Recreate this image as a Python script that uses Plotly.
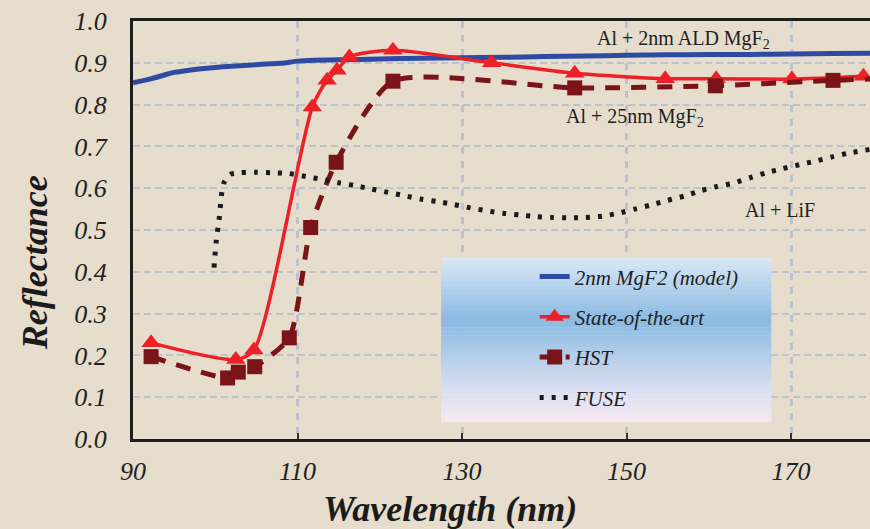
import plotly.graph_objects as go

# ---------------- data ----------------
model_x = [90, 92, 93, 94, 95, 96, 98, 100, 102, 104, 106, 108, 110, 112, 115, 120, 125,
           130, 135, 140, 145, 150, 155, 160, 165, 170, 175, 180]
model_y = [0.852, 0.861, 0.866, 0.872, 0.877, 0.880, 0.885, 0.889, 0.892, 0.894, 0.897, 0.899,
           0.904, 0.906, 0.907, 0.909, 0.911, 0.912, 0.913, 0.915, 0.916, 0.918, 0.919, 0.920,
           0.920, 0.921, 0.922, 0.923]

sota_x = [92.2, 102.5, 104.7, 111.8, 113.6, 114.8, 116.3, 121.6, 133.6, 143.7, 154.7, 160.9, 170.1, 178.8]
sota_y = [0.230, 0.190, 0.213, 0.794, 0.858, 0.882, 0.914, 0.930, 0.900, 0.875, 0.862, 0.862, 0.861, 0.868]

hst_x = [92.2, 101.5, 102.8, 104.8, 109.0, 111.6, 114.7, 121.6, 143.7, 160.8, 175.1, 181.0]
hst_y = [0.197, 0.146, 0.160, 0.173, 0.242, 0.506, 0.662, 0.856, 0.840, 0.845, 0.858, 0.862]

fuse_x = [99.85, 100.1, 100.5, 100.8, 101.1, 101.8, 103, 105, 107, 109, 111, 113, 115, 117,
          119, 121, 123, 125, 127, 129, 131, 133, 135, 137, 139, 141, 143, 145, 147, 149, 151,
          153, 155, 157, 159, 161, 163, 165, 167, 169, 171, 173, 175, 177, 179.6]
fuse_y = [0.410, 0.470, 0.530, 0.590, 0.615, 0.633, 0.637, 0.638, 0.637, 0.635, 0.628, 0.621,
          0.613, 0.606, 0.598, 0.590, 0.582, 0.574, 0.568, 0.561, 0.553, 0.546, 0.540, 0.536,
          0.532, 0.530, 0.529, 0.530, 0.533, 0.540, 0.550, 0.560, 0.571, 0.581, 0.594, 0.604,
          0.612, 0.625, 0.637, 0.647, 0.656, 0.665, 0.675, 0.684, 0.693]

series_names = ["2nm MgF2 (model)", "State-of-the-art", "HST", "FUSE"]
curve_labels = ["Al + 2nm ALD MgF<sub>2</sub>", "Al + 25nm MgF<sub>2</sub>", "Al + LiF"]
label_x = [156.9, 151.0, 168.7]
label_y = [0.955, 0.768, 0.548]

x_ticks = [90, 110, 130, 150, 170]
y_ticks = [0.0, 0.1, 0.2, 0.3, 0.4, 0.5, 0.6, 0.7, 0.8, 0.9, 1.0]

# ---------------- style ----------------
BG = "#e6ddcc"
SERIF = "Liberation Serif"
BLUE = "#2f4aa3"
RED = "#ee2027"
DRED = "#7b1418"
BLACK = "#1b1b1b"
GRID = "#bcc3cf"

fig = go.Figure()

fig.add_trace(go.Scatter(x=model_x, y=model_y, mode="lines", name=series_names[0],
                         legendgroup="a",
                         line=dict(color=BLUE, width=5, shape="spline", smoothing=0.6)))
fig.add_trace(go.Scatter(x=sota_x, y=sota_y, mode="lines+markers", name=series_names[1],
                         legendgroup="b",
                         line=dict(color=RED, width=3.5, shape="spline", smoothing=0.7),
                         marker=dict(symbol="triangle-up", size=17, color=RED)))
fig.add_trace(go.Scatter(x=hst_x, y=hst_y, mode="lines+markers", name=series_names[2],
                         legendgroup="c",
                         line=dict(color=DRED, width=5, dash="15px,11px", shape="spline", smoothing=0.6),
                         marker=dict(symbol="square", size=15, color=DRED)))
fig.add_trace(go.Scatter(x=fuse_x, y=fuse_y, mode="lines", name=series_names[3],
                         legendgroup="d",
                         line=dict(color=BLACK, width=5, dash="4px,8px", shape="spline", smoothing=0.6)))

# curve labels
for t, xx, yy in zip(curve_labels, label_x, label_y):
    fig.add_annotation(x=xx, y=yy, xref="x", yref="y", text=t, showarrow=False,
                       font=dict(family=SERIF, size=20, color="#222222"))

# axis titles as annotations (the original titles are centered on a wider, cropped plot)
fig.add_annotation(x=0.43, y=-0.168, xref="paper", yref="paper", text="Wavelength (nm)",
                   showarrow=False, yanchor="middle",
                   font=dict(family=SERIF, size=36, color="#1b1b1b", weight="bold", style="italic"))
fig.add_annotation(x=-0.133, y=0.423, xref="paper", yref="paper", text="Reflectance",
                   showarrow=False, textangle=-90, xanchor="center",
                   font=dict(family=SERIF, size=36, color="#1b1b1b", weight="bold", style="italic"))

# legend background with vertical gradient
stops = [(0.0, (220, 231, 244)), (0.22, (172, 205, 235)), (0.38, (140, 186, 226)),
         (0.6, (178, 206, 234)), (0.82, (222, 224, 242)), (1.0, (246, 232, 240))]
x0p, x1p = 0.418, 0.866
ytop, ybot = 0.435, 0.041
N = 40
def lerp_col(f):
    for i in range(len(stops) - 1):
        a, ca = stops[i]
        b, cb = stops[i + 1]
        if a <= f <= b:
            t = (f - a) / (b - a)
            c = [round(ca[k] + (cb[k] - ca[k]) * t) for k in range(3)]
            return "rgb(%d,%d,%d)" % tuple(c)
    return "rgb(%d,%d,%d)" % stops[-1][1]
for i in range(N):
    f = (i + 0.5) / N
    y1 = ytop - (ytop - ybot) * i / N
    y0 = ytop - (ytop - ybot) * (i + 1) / N
    fig.add_shape(type="rect", xref="paper", yref="paper", x0=x0p, x1=x1p, y0=y0 - 0.001, y1=y1,
                  line=dict(width=0), fillcolor=lerp_col(f), layer="above")

fig.update_layout(
    width=870, height=529,
    margin=dict(l=133, r=0, t=21, b=90),
    paper_bgcolor=BG, plot_bgcolor=BG,
    font=dict(family=SERIF, color="#222222"),
    showlegend=True,
    legend=dict(x=0.545, y=0.437, xanchor="left", yanchor="top", bgcolor="rgba(0,0,0,0)",
                traceorder="grouped", tracegroupgap=10,
                font=dict(family=SERIF, size=21, style="italic", color="#222222")),
    xaxis=dict(range=[90, 179.6], tickvals=x_ticks, ticktext=[str(v) for v in x_ticks],
               showline=True, linecolor="#1e1e1e", linewidth=3, mirror=True,
               showgrid=True, gridcolor=GRID, gridwidth=2.5, griddash="7px,7px",
               ticks="inside", ticklen=6, tickwidth=2, tickcolor="#333333",
               ticklabelstandoff=7, zeroline=False,
               tickfont=dict(family=SERIF, size=26, style="italic", color="#222222")),
    yaxis=dict(range=[0, 1.0], tickvals=y_ticks, ticktext=["%.1f" % v for v in y_ticks],
               showline=True, linecolor="#1e1e1e", linewidth=3,
               showgrid=True, gridcolor=GRID, gridwidth=1.5, griddash="7px,4px",
               ticks="", ticklabelstandoff=18, zeroline=False,
               tickfont=dict(family=SERIF, size=26, style="italic", color="#222222")),
)

fig.write_html("out.html", config={"displayModeBar": False},
               post_script="document.body.style.margin='0';document.body.style.padding='0';"
                           "document.body.style.background='" + BG + "';")
